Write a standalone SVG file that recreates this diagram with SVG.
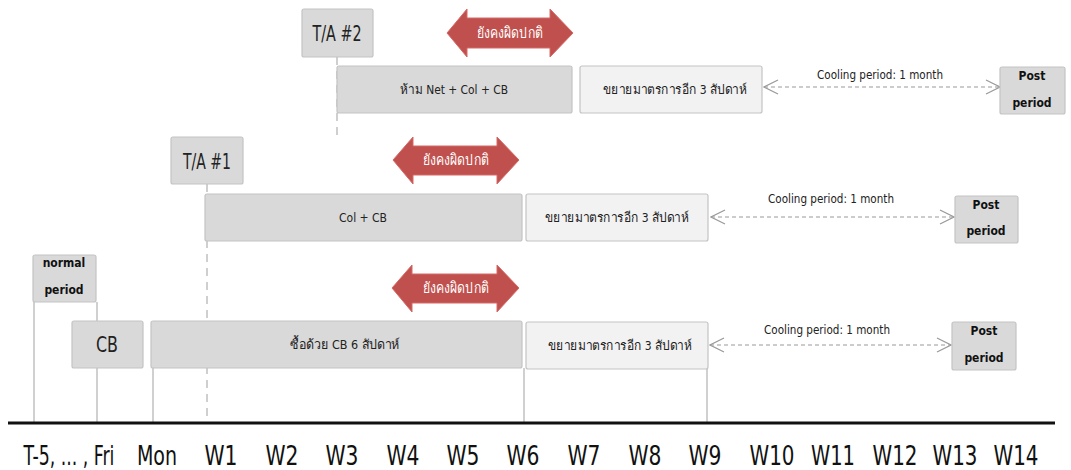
<svg xmlns="http://www.w3.org/2000/svg" width="1071" height="470" viewBox="0 0 1071 470">
<style>
.bx{fill:#d9d9d9;stroke:#c4c4c4;stroke-width:1.2}
.lt{fill:#f2f2f2;stroke:#c4c4c4;stroke-width:1.2}
.t{font-family:"Liberation Sans Narrow","DejaVu Sans Condensed","Liberation Sans","Noto Sans",sans-serif;fill:#222;text-anchor:middle}
.th{font-size:13px}
.ta{font-size:21px}
.cool{font-size:12px}
.pb{font-size:12px;font-weight:bold;fill:#111}
.red{fill:#c0504d;stroke:#d46a67;stroke-width:1}
.rt{font-size:15px;fill:#ffffff}
.ax{font-size:27px;fill:#111}
.axs{font-size:23px;fill:#111}
.vl{stroke:#c0c0c0;stroke-width:1.5;fill:none}
.dl{stroke:#c0c0c0;stroke-width:1.5;fill:none;stroke-dasharray:8 6}
.cp{stroke:#9a9a9a;stroke-width:1.2;stroke-dasharray:4 3;fill:none;marker-start:url(#ch);marker-end:url(#ch)}
</style>
<defs>
<marker id="ch" viewBox="0 0 16 16" refX="15" refY="8" markerWidth="16" markerHeight="16" markerUnits="userSpaceOnUse" orient="auto-start-reverse">
<path d="M1,1 L15,8 L1,15" fill="none" stroke="#9a9a9a" stroke-width="1.2"/>
</marker>
</defs>
<rect width="1071" height="470" fill="#ffffff"/>

<g id="connectors">
<line class="dl" x1="337" y1="57" x2="337" y2="140"/>
<line class="dl" x1="207" y1="184" x2="207" y2="423"/>
<line class="vl" x1="34" y1="302" x2="34" y2="423"/>
<line class="vl" x1="97" y1="302" x2="97" y2="423"/>
<line class="vl" x1="153" y1="368" x2="153" y2="423"/>
<line class="vl" x1="524" y1="368" x2="524" y2="423"/>
<line class="vl" x1="707" y1="368" x2="707" y2="423"/>
<line class="cp" x1="764" y1="87" x2="1000" y2="87"/>
<line class="cp" x1="711" y1="217" x2="954" y2="217"/>
<line class="cp" x1="710" y1="345" x2="951" y2="345"/>
<line x1="8" y1="423" x2="1055" y2="423" stroke="#111" stroke-width="3"/>
</g>

<g id="axis-labels">
<text class="t axs" transform="translate(69,465) scale(0.84,1.17)">T-5, ... , Fri</text>
<text class="t axs" transform="translate(157,465) scale(0.92,1.17)">Mon</text>
<text class="t ax" x="221" y="465" textLength="33" lengthAdjust="spacingAndGlyphs">W1</text>
<text class="t ax" x="282" y="465" textLength="33" lengthAdjust="spacingAndGlyphs">W2</text>
<text class="t ax" x="342" y="465" textLength="33" lengthAdjust="spacingAndGlyphs">W3</text>
<text class="t ax" x="403" y="465" textLength="33" lengthAdjust="spacingAndGlyphs">W4</text>
<text class="t ax" x="463" y="465" textLength="33" lengthAdjust="spacingAndGlyphs">W5</text>
<text class="t ax" x="523" y="465" textLength="33" lengthAdjust="spacingAndGlyphs">W6</text>
<text class="t ax" x="584" y="465" textLength="33" lengthAdjust="spacingAndGlyphs">W7</text>
<text class="t ax" x="645" y="465" textLength="33" lengthAdjust="spacingAndGlyphs">W8</text>
<text class="t ax" x="705" y="465" textLength="33" lengthAdjust="spacingAndGlyphs">W9</text>
<text class="t ax" x="772" y="465" textLength="45" lengthAdjust="spacingAndGlyphs">W10</text>
<text class="t ax" x="833" y="465" textLength="44" lengthAdjust="spacingAndGlyphs">W11</text>
<text class="t ax" x="895" y="465" textLength="45" lengthAdjust="spacingAndGlyphs">W12</text>
<text class="t ax" x="955" y="465" textLength="45" lengthAdjust="spacingAndGlyphs">W13</text>
<text class="t ax" x="1016" y="465" textLength="45" lengthAdjust="spacingAndGlyphs">W14</text>
</g>

<g id="ta2">
<rect class="bx" x="302" y="9" width="71" height="48" rx="2"/>
<text class="t ta" x="337" y="41" textLength="49" lengthAdjust="spacingAndGlyphs">T/A #2</text>
</g>
<g id="abnormal-top">
<polygon class="red" points="447,33 467,9 467,18 550,18 550,9 573,33 550,57 550,48 467,48 467,57"/>
<text class="t rt" x="510" y="38" textLength="66" lengthAdjust="spacingAndGlyphs">ยังคงผิดปกติ</text>
</g>
<g id="ban-net">
<rect class="bx" x="337" y="66" width="235" height="47" rx="2"/>
<text class="t th" x="454" y="94" textLength="108" lengthAdjust="spacingAndGlyphs">ห้าม Net + Col + CB</text>
</g>
<g id="extend-top">
<rect class="lt" x="580" y="66" width="182" height="47" rx="2"/>
<text class="t th" x="675" y="94" textLength="144" lengthAdjust="spacingAndGlyphs">ขยายมาตรการอีก 3 สัปดาห์</text>
</g>
<text class="t cool" x="880" y="79" textLength="126" lengthAdjust="spacingAndGlyphs">Cooling period: 1 month</text>
<g id="post-top">
<rect class="bx" x="1000" y="67" width="65" height="47" rx="2"/>
<text class="t pb" x="1032" y="80">Post</text>
<text class="t pb" x="1032" y="107">period</text>
</g>

<g id="ta1">
<rect class="bx" x="171" y="137" width="72" height="47" rx="2"/>
<text class="t ta" x="207" y="169" textLength="48" lengthAdjust="spacingAndGlyphs">T/A #1</text>
</g>
<g id="abnormal-mid">
<polygon class="red" points="393,160 413,137 413,146 497,146 497,137 519,160 497,184 497,175 413,175 413,184"/>
<text class="t rt" x="456" y="165" textLength="66" lengthAdjust="spacingAndGlyphs">ยังคงผิดปกติ</text>
</g>
<g id="col-cb">
<rect class="bx" x="205" y="194" width="317" height="47" rx="2"/>
<text class="t th" x="363" y="222" textLength="48" lengthAdjust="spacingAndGlyphs">Col + CB</text>
</g>
<g id="extend-mid">
<rect class="lt" x="526" y="194" width="182" height="47" rx="2"/>
<text class="t th" x="617" y="222" textLength="144" lengthAdjust="spacingAndGlyphs">ขยายมาตรการอีก 3 สัปดาห์</text>
</g>
<text class="t cool" x="831" y="203" textLength="126" lengthAdjust="spacingAndGlyphs">Cooling period: 1 month</text>
<g id="post-mid">
<rect class="bx" x="955" y="196" width="63" height="47" rx="2"/>
<text class="t pb" x="986" y="209">Post</text>
<text class="t pb" x="986" y="235">period</text>
</g>

<g id="normal-period">
<rect class="bx" x="33" y="255" width="63" height="47" rx="2"/>
<text class="t pb" x="64" y="267">normal</text>
<text class="t pb" x="64" y="294">period</text>
</g>
<g id="abnormal-bot">
<polygon class="red" points="392,288 412,265 412,274 497,274 497,265 519,288 497,312 497,303 412,303 412,312"/>
<text class="t rt" x="456" y="293" textLength="66" lengthAdjust="spacingAndGlyphs">ยังคงผิดปกติ</text>
</g>
<g id="cb">
<rect class="bx" x="72" y="321" width="71" height="47" rx="2"/>
<text class="t ta" x="107" y="352" textLength="22" lengthAdjust="spacingAndGlyphs">CB</text>
</g>
<g id="buy-cb">
<rect class="bx" x="151" y="321" width="371" height="47" rx="2"/>
<text class="t th" x="345" y="349" textLength="110" lengthAdjust="spacingAndGlyphs">ซื้อด้วย CB 6 สัปดาห์</text>
</g>
<g id="extend-bot">
<rect class="lt" x="526" y="322" width="182" height="47" rx="2"/>
<text class="t th" x="620" y="350" textLength="144" lengthAdjust="spacingAndGlyphs">ขยายมาตรการอีก 3 สัปดาห์</text>
</g>
<text class="t cool" x="827" y="334" textLength="126" lengthAdjust="spacingAndGlyphs">Cooling period: 1 month</text>
<g id="post-bot">
<rect class="bx" x="952" y="322" width="64" height="48" rx="2"/>
<text class="t pb" x="984" y="335">Post</text>
<text class="t pb" x="984" y="362">period</text>
</g>
</svg>
